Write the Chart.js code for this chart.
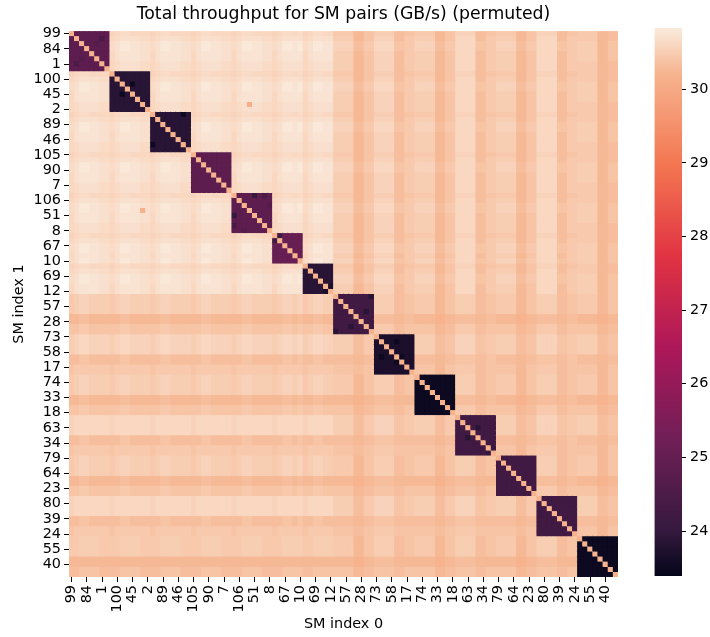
<!DOCTYPE html>
<html>
<head>
<meta charset="utf-8">
<script src="https://cdn.jsdelivr.net/npm/chart.js@4"></script>
<style>
body { margin: 0; background: white; }
#wrap { position: relative; width: 710px; height: 637px; }
canvas { position: absolute; top: 0; }
</style>
</head>
<body>
<div id="wrap">
<canvas id="heat" width="710" height="637" style="left:0"></canvas>
<canvas id="cbar" width="70" height="637" style="left:640px"></canvas>
</div>
<script>
// tick labels, every third SM on both axes
var tickLabels = ["99","84","1","100","45","2","89","46","105","90","7","106","51","8","67","10","69","12",
                  "57","28","73","58","17","74","33","18","63","34","79","64","23","80","39","24","55","40"];
var colorbarTicks = [24, 25, 26, 27, 28, 29, 30];
var colorRange = [23.39, 30.83];

// GB/s for each letter used in the rows below
var levelValues = {
  p:30.12, a:30.2, b:30.27, c:30.33, d:30.39, e:30.45, f:30.5, g:30.55, h:30.6, i:30.65, j:30.7, k:30.75, l:30.8,
  A:23.5, B:23.7, C:23.85, D:24.05, E:24.25, F:24.45, G:24.65, H:24.85, I:25.05
};

// repeated pieces of rows (matrix is symmetric, upper part only)
var L8="ghiihhhh", L5="ghiihi", L6="ghiihh", Lb="eeeebbddffffccddeeeebbddggggccddeeeebbddggggccddeeeebbcc";
var N8="hijjjjii", N5="hijjjj", N6="hijjjj", Nb="ffffbbddggggcceeffffbbddhhhhcceeffffbbddhhhhcceeeeeebbcc";
var H8="hjkkkkjj", H5="hjkkkk", H6="hjkkkk", Hb="ffffbbddggggcceeffffbbddhhhhcceeffffbbddhhhhcceeffffbbdd";
var T8="ijllkkjj", T5="ijllkl", T6="ijllkk", Tb="ggggcceehhhhddeeggggcceehhhhddeeggggcceehhhhddeeffffbbdd";
var N8spot="hijpjjii";

var upperRows = [
  "aHHHHHHH"+L8+L8+L8+L8+L5+L6+Lb,
  "aHHHHFH"+N8+N8+N8+N8+N5+N6+Nb,
  "aHHGHH"+T8+T8+T8+T8+T5+T6+Tb,
  "aHHHH"+T8+T8+T8+T8+T5+T6+Tb,
  "aHHH"+H8+H8+H8+H8+H5+H6+Hb,
  "aHH"+H8+H8+H8+H8+H5+H6+Hb,
  "aH"+N8+N8+N8+N8+N5+N6+Nb,
  "a"+N8+N8+N8+N8+N5+N6+Nb,

  "aCCCCCCC"+L8+L8+L8+L5+L6+Lb,
  "aCCCCCC"+N8+N8+N8+N5+N6+Nb,
  "aCACCC"+T8+T8+T8+T5+T6+Tb,
  "aCCCC"+T8+T8+T8+T5+T6+Tb,
  "aCCC"+H8+H8+H8+H5+H6+Hb,
  "aCC"+H8+H8+H8+H5+H6+Hb,
  "aC"+N8+N8+N8spot+N5+N6+Nb,
  "a"+N8+N8+N8+N5+N6+Nb,

  "aCCCCCAC"+L8+L8+L5+L6+Lb,
  "aCCCCCC"+N8+N8+N5+N6+Nb,
  "aCCCCC"+T8+T8+T5+T6+Tb,
  "aCCCC"+T8+T8+T5+T6+Tb,
  "aCCC"+H8+H8+H5+H6+Hb,
  "aCC"+H8+H8+H5+H6+Hb,
  "aC"+N8+N8+N5+N6+Nb,
  "a"+N8+N8+N5+N6+Nb,

  "aHHHHHHH"+L8+L5+L6+Lb,
  "aHHHHHH"+N8+N5+N6+Nb,
  "aHHHHH"+T8+T5+T6+Tb,
  "aHHHH"+T8+T5+T6+Tb,
  "aHHH"+H8+H5+H6+Hb,
  "aHH"+H8+H5+H6+Hb,
  "aH"+N8+N5+N6+Nb,
  "a"+N8+N5+N6+Nb,

  "aHHHDHFH"+L5+L6+Lb,
  "aHHHHHH"+N5+N6+Nb,
  "aHHHHG"+T5+T6+Tb,
  "aHHHH"+T5+T6+Tb,
  "aHHH"+H5+H6+Hb,
  "aHH"+H5+H6+Hb,
  "aH"+N5+N6+Nb,
  "a"+N5+N6+Nb,

  "aEIIII"+L6+Lb,
  "aIIII"+N6+Nb,
  "aIII"+T6+Tb,
  "aII"+T6+Tb,
  "aI"+H6+Hb,
  "a"+T6+Tb,

  "aCCCCC"+Lb,
  "aCCCC"+Nb,
  "aCCC"+Tb,
  "aCC"+Tb,
  "aB"+Hb,
  "a"+Hb,

  "aEEEEEEC"+"ffffccddeeeebbddffffccddeeeebbddffffccddeeeebbdd",
  "aEEEEEE"+"ffffccddeeeebbddffffccddeeeebbddffffccddeeeebbdd",
  "aEEEEE"+"ffffccddeeeebbddffffccddeeeebbddffffccddeeeebbdd",
  "aEECE"+"ffffccddeeeebbddffffccddeeeebbddffffccddeeeebbdd",
  "aEEE"+"ccccbbccbbbbaabbccccbbccbbbbaabbccccbbccbbbbaabb",
  "aEE"+"ccccbbccbbbbaabbccccbbccbbbbaabbccccbbccbbbbaabb",
  "aE"+"eeeeccddddddbbcceeeeccddddddbbcceeeeccddddddbbcc",
  "a"+"eeeeccddddddbbcceeeeccddddddbbcceeeeccddddddbbcc",

  "aBBBBBBB"+"ffffccddggggddeeffffccddggggddeeffffccdd",
  "aBBABBB"+"ffffccddggggddeeffffccddggggddeeffffccdd",
  "aBBBBB"+"ffffccddggggddeeffffccddggggddeeffffccdd",
  "aBBBB"+"ffffccddggggddeeffffccddggggddeeffffccdd",
  "aABB"+"ccccbbccddddccddccccbbccddddccddccccbbcc",
  "aBB"+"ccccbbccddddccddccccbbccddddccddccccbbcc",
  "aB"+"ddddbbddeeeeccddddddbbddeeeeccddddddbbdd",
  "a"+"ddddbbddeeeeccddddddbbddeeeeccddddddbbdd",

  "aAAAAAAA"+"ffffccddeeeebbddffffccddeeeebbdd",
  "aAAAAAA"+"ffffccddeeeebbddffffccddeeeebbdd",
  "aAAAAA"+"ffffccddeeeebbddffffccddeeeebbdd",
  "aAAAA"+"ffffccddeeeebbddffffccddeeeebbdd",
  "aAAA"+"ccccbbccbbbbaabbccccbbccbbbbaabb",
  "aAA"+"ccccbbccbbbbaabbccccbbccbbbbaabb",
  "aA"+"eeeeccddddddbbcceeeeccddddddbbcc",
  "a"+"eeeeccddddddbbcceeeeccddddddbbcc",

  "aEEEEEEE"+"ffffccddggggddeeffffccdd",
  "aEEEEEE"+"ffffccddggggddeeffffccdd",
  "aECEEE"+"ffffccddggggddeeffffccdd",
  "aEEEE"+"ffffccddggggddeeffffccdd",
  "aEEE"+"ccccbbccddddccddccccbbcc",
  "aEE"+"ccccbbccddddccddccccbbcc",
  "aD"+"ddddbbddeeeeccddddddbbdd",
  "a"+"ddddbbddeeeeccddddddbbdd",

  "aEEEEEEE"+"ffffccddeeeebbdd",
  "aEEEEEE"+"ffffccddeeeebbdd",
  "aEEEEE"+"ffffccddeeeebbdd",
  "aEEEE"+"ffffccddeeeebbdd",
  "aEEE"+"ccccbbccbbbbaabb",
  "aEE"+"ccccbbccbbbbaabb",
  "aE"+"eeeeccddddddbbcc",
  "a"+"eeeeccddddddbbcc",

  "aEEEEEEE"+"ffffccdd",
  "aEEEEEE"+"ffffccdd",
  "aEEEEE"+"ffffccdd",
  "aEEEE"+"ffffccdd",
  "aEEE"+"ccccbbcc",
  "aEE"+"ccccbbcc",
  "aE"+"ddddbbdd",
  "a"+"ddddbbdd",

  "aAAAAAAA",
  "aAAAAAA",
  "aAAAAA",
  "aAAAA",
  "aAAA",
  "aAA",
  "aA",
  "a"
];

// rocket colormap stops
var rocketStops = [[0,[3,5,26]],[0.083,[53,25,62]],[0.25,[112,31,87]],[0.417,[173,23,89]],
                   [0.583,[225,51,66]],[0.75,[243,118,81]],[0.917,[246,180,143]],[1,[250,235,221]]];

function rocket(v) {
  var t = (v - colorRange[0]) / (colorRange[1] - colorRange[0]);
  for (var i = 1; i < rocketStops.length; i++) {
    if (t <= rocketStops[i][0]) {
      var a = rocketStops[i-1], b = rocketStops[i];
      var f = (t - a[0]) / (b[0] - a[0]);
      return "rgb(" + a[1].map(function (c, k) { return Math.round(c + (b[1][k] - c) * f); }).join(",") + ")";
    }
  }
  return "rgb(250,235,221)";
}

var cells = [];
upperRows.forEach(function (row, i) {
  for (var k = 0; k < row.length; k++) {
    var v = levelValues[row[k]];
    cells.push({ x: i + k + 0.5, y: i + 0.5, v: v });
    if (k > 0) cells.push({ x: i + 0.5, y: i + k + 0.5, v: v });
  }
});

Chart.defaults.font.family = "'DejaVu Sans'";
Chart.defaults.color = "#000";
Chart.defaults.animation = false;

function setTicks(axis) {
  axis.ticks = tickLabels.map(function (t, i) { return { value: i * 3 + 0.5 }; });
}
function tickText(v) {
  return tickLabels[(v - 0.5) / 3];
}
function cellColor(c) {
  return rocket(c.raw.v);
}

new Chart(document.getElementById("heat"), {
  type: "scatter",
  data: {
    datasets: [{
      // exact squares on top
      data: cells,
      pointStyle: "rect",
      pointBorderWidth: 0,
      pointBackgroundColor: cellColor,
      pointRadius: function (c) { return c.chart.scales.x.width / 108 * Math.SQRT1_2; }
    }, {
      // slightly bigger copy underneath so no seams show between squares
      data: cells,
      pointStyle: "rect",
      pointBorderWidth: 0,
      pointBackgroundColor: cellColor,
      pointRadius: function (c) { return c.chart.scales.x.width / 108 * 0.9; }
    }]
  },
  options: {
    responsive: false,
    events: [],
    layout: { padding: { right: 92, top: 0.4 } },
    plugins: {
      legend: { display: false },
      tooltip: { enabled: false },
      title: {
        display: true,
        fullSize: false,
        text: "Total throughput for SM pairs (GB/s) (permuted)",
        font: { size: 17.3, weight: "normal" },
        lineHeight: 1.1,
        padding: { top: 4, bottom: 6 }
      }
    },
    scales: {
      x: {
        type: "linear", min: 0, max: 108,
        afterBuildTicks: setTicks,
        afterFit: function (s) { s.height = 60; },
        grid: { drawOnChartArea: false, tickLength: 5, color: "#000", tickWidth: 1 },
        border: { display: false },
        ticks: { callback: tickText, autoSkip: false, minRotation: 90, maxRotation: 90, font: { size: 14.4 }, padding: 3 },
        title: { display: true, text: "SM index 0", font: { size: 14.4 }, padding: { top: 0, bottom: 4 } }
      },
      y: {
        type: "linear", min: 0, max: 108, reverse: true,
        afterBuildTicks: setTicks,
        afterFit: function (s) { s.width = 69; },
        grid: { drawOnChartArea: false, tickLength: 5, color: "#000", tickWidth: 1 },
        border: { display: false },
        ticks: { callback: tickText, autoSkip: false, minRotation: 0, maxRotation: 0, font: { size: 14.4 }, padding: 3 },
        title: { display: true, text: "SM index 1", font: { size: 14.4 }, padding: { top: 11, bottom: 0 } }
      }
    }
  }
});

// colorbar: one bar over the whole range, filled with the colormap
new Chart(document.getElementById("cbar"), {
  type: "bar",
  data: {
    labels: [""],
    datasets: [{
      data: [colorRange],
      categoryPercentage: 1,
      barPercentage: 1,
      backgroundColor: function (c) {
        var area = c.chart.chartArea;
        if (!area) return "#000";
        var g = c.chart.ctx.createLinearGradient(0, area.bottom, 0, area.top);
        rocketStops.forEach(function (s) { g.addColorStop(s[0], "rgb(" + s[1].join(",") + ")"); });
        return g;
      }
    }]
  },
  options: {
    responsive: false,
    events: [],
    layout: { padding: { left: 14.5, top: 28, bottom: 61 } },
    plugins: { legend: { display: false }, tooltip: { enabled: false } },
    scales: {
      x: { display: false },
      y: {
        position: "right",
        min: colorRange[0], max: colorRange[1],
        afterBuildTicks: function (axis) { axis.ticks = colorbarTicks.map(function (v) { return { value: v }; }); },
        afterFit: function (s) { s.width = 28; },
        grid: { drawOnChartArea: false, tickLength: 4, color: "#000", tickWidth: 1 },
        border: { display: false },
        ticks: { font: { size: 14.4 }, padding: 4 }
      }
    }
  }
});
</script>
</body>
</html>
